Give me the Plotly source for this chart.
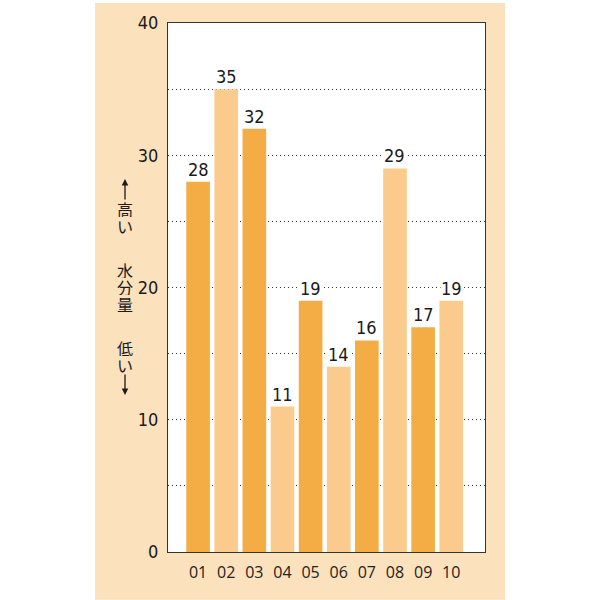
import plotly.graph_objects as go

categories = ["01", "02", "03", "04", "05", "06", "07", "08", "09", "10"]
values = [28, 35, 32, 11, 19, 14, 16, 29, 17, 19]
bar_colors = ["#F4AC45", "#FACB8C", "#F4AC45", "#FACB8C", "#F4AC45",
              "#FACB8C", "#F4AC45", "#FACB8C", "#F4AC45", "#FACB8C"]
y_ticks = [0, 10, 20, 30, 40]

W, H = 600, 600
L, R, T, B = 168, 115, 20, 48
pw, ph = W - L - R, H - T - B

NARROW = "Liberation Sans Narrow, DejaVu Sans Condensed, Liberation Sans, sans-serif"
SANS = "Open Sans, Lato, Liberation Sans, sans-serif"


def px_x(x):
    return (x - L) / pw


def px_y(y):
    return (H - B - y) / ph


fig = go.Figure(
    go.Bar(
        x=categories,
        y=values,
        marker=dict(color=bar_colors, line=dict(width=0)),
        hoverinfo="skip",
    )
)

# value labels above bars (white box so dotted grid is cut)
annotations = []
for i, v in enumerate(values):
    annotations.append(dict(
        x=i, y=v, xref="x", yref="y", text=str(v), showarrow=False,
        yanchor="bottom", yshift=1, bgcolor="white", borderpad=0,
        font=dict(family=NARROW, size=18, color="#1a1a1a"),
    ))

# vertical Japanese axis label, one glyph per line
chars = [("高", 207), ("い", 224), ("水", 268), ("分", 285), ("量", 302),
         ("低", 346), ("い", 363)]
for ch, yy in chars:
    annotations.append(dict(
        x=px_x(125), y=px_y(yy), xref="paper", yref="paper", text=ch,
        showarrow=False, xanchor="center", yanchor="middle", height=17,
        font=dict(family="Noto Sans CJK JP", size=16, color="#1a1a1a"),
    ))
# arrows
annotations.append(dict(
    x=px_x(125), y=px_y(177), xref="paper", yref="paper", text="",
    ax=0, ay=22, showarrow=True, arrowhead=2, arrowsize=1,
    arrowwidth=1.3, arrowcolor="#1a1a1a",
))
annotations.append(dict(
    x=px_x(125), y=px_y(394), xref="paper", yref="paper", text="",
    ax=0, ay=-22, showarrow=True, arrowhead=2, arrowsize=1,
    arrowwidth=1.3, arrowcolor="#1a1a1a",
))

fig.update_layout(
    width=W, height=H,
    margin=dict(l=L, r=R, t=T, b=B),
    paper_bgcolor="white",
    plot_bgcolor="white",
    showlegend=False,
    bargap=0.16,
    annotations=annotations,
    shapes=[
        dict(type="rect", xref="paper", yref="paper", layer="below",
             x0=px_x(95), x1=px_x(505), y0=px_y(600), y1=px_y(0),
             fillcolor="#FCE1BD", line=dict(width=0)),
        dict(type="rect", xref="paper", yref="paper", layer="below",
             x0=0, x1=1, y0=0, y1=1,
             fillcolor="white", line=dict(width=0)),
    ],
)

fig.update_xaxes(
    type="category",
    range=[-1.07, 10.2],
    showline=True, mirror=True, linecolor="#333333", linewidth=1,
    showgrid=False, ticks="", ticklabelstandoff=6,
    tickfont=dict(family=SANS, size=16, color="#222222"),
)
fig.update_yaxes(
    range=[0, 40],
    tickvals=y_ticks,
    showline=True, mirror=True, linecolor="#333333", linewidth=1,
    showgrid=True, gridcolor="#333333", gridwidth=1, griddash="1px,3px",
    minor=dict(dtick=5, showgrid=True, gridcolor="#333333", gridwidth=1, griddash="1px,3px"),
    zeroline=False, ticks="", ticklabelstandoff=5,
    tickfont=dict(family=NARROW, size=18, color="#1a1a1a"),
)

fig.write_html("out.html", config={"displayModeBar": False},
               post_script="document.body.style.margin='0';")
